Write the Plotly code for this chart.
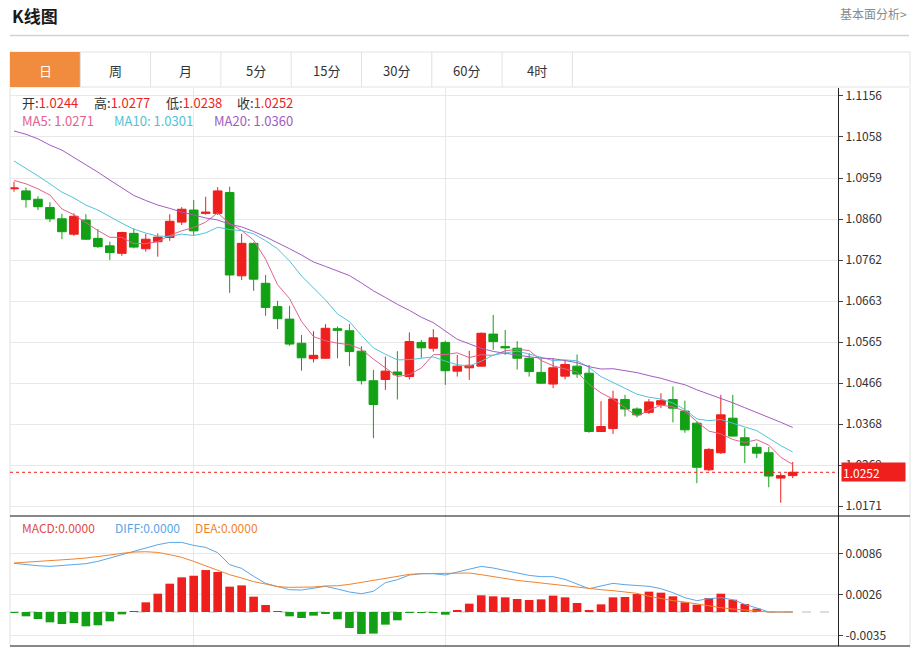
import plotly.graph_objects as go
import pandas as pd

# ---------------- data ----------------
opens = [1.0933, 1.0928, 1.0908, 1.0888, 1.0861, 1.0824, 1.0858, 1.0814, 1.0796, 1.0778,
         1.0826, 1.0789, 1.0806, 1.0816, 1.0853, 1.0882, 1.0874, 1.0874, 1.0924, 1.0724,
         1.0802, 1.0706, 1.0650, 1.0620, 1.0562, 1.0525, 1.0526, 1.0597, 1.0592, 1.0543,
         1.0472, 1.0475, 1.0493, 1.0482, 1.0564, 1.0550, 1.0564, 1.0495, 1.0503, 1.0507,
         1.0584, 1.0554, 1.0550, 1.0526, 1.0492, 1.0464, 1.0483, 1.0507, 1.0490, 1.0350,
         1.0357, 1.0427, 1.0404, 1.0396, 1.0414, 1.0427, 1.0399, 1.0370, 1.0258, 1.0299,
         1.0382, 1.0335, 1.0312, 1.0299, 1.0238, 1.0244]
highs = [1.0950, 1.0936, 1.0915, 1.0901, 1.0873, 1.0874, 1.0872, 1.0836, 1.0806, 1.0830,
         1.0838, 1.0825, 1.0826, 1.0872, 1.0889, 1.0906, 1.0914, 1.0937, 1.0938, 1.0825,
         1.0804, 1.0726, 1.0664, 1.0652, 1.0582, 1.0591, 1.0608, 1.0602, 1.0608, 1.0555,
         1.0498, 1.0530, 1.0543, 1.0588, 1.0570, 1.0596, 1.0568, 1.0534, 1.0544, 1.0588,
         1.0630, 1.0594, 1.0567, 1.0538, 1.0528, 1.0526, 1.0522, 1.0535, 1.0510, 1.0423,
         1.0448, 1.0438, 1.0408, 1.0428, 1.0442, 1.0458, 1.0424, 1.0374, 1.0310, 1.0438,
         1.0438, 1.0358, 1.0322, 1.0313, 1.0250, 1.0277]
lows = [1.0926, 1.0888, 1.0882, 1.0853, 1.0812, 1.0820, 1.0810, 1.0791, 1.0762, 1.0772,
        1.0790, 1.0782, 1.0770, 1.0808, 1.0846, 1.0822, 1.0871, 1.0870, 1.0683, 1.0714,
        1.0688, 1.0628, 1.0596, 1.0556, 1.0496, 1.0516, 1.0525, 1.0526, 1.0507, 1.0463,
        1.0334, 1.0450, 1.0427, 1.0475, 1.0527, 1.0542, 1.0462, 1.0482, 1.0474, 1.0506,
        1.0546, 1.0534, 1.0499, 1.0482, 1.0465, 1.0454, 1.0475, 1.0479, 1.0347, 1.0349,
        1.0344, 1.0386, 1.0384, 1.0392, 1.0406, 1.0372, 1.0347, 1.0226, 1.0255, 1.0296,
        1.0338, 1.0274, 1.0286, 1.0216, 1.0179, 1.0238]
closes = [1.0935, 1.0907, 1.0890, 1.0861, 1.0830, 1.0867, 1.0812, 1.0794, 1.0780, 1.0828,
          1.0793, 1.0812, 1.0817, 1.0855, 1.0884, 1.0832, 1.0877, 1.0928, 1.0726, 1.0802,
          1.0716, 1.0648, 1.0621, 1.0560, 1.0527, 1.0533, 1.0598, 1.0593, 1.0542, 1.0472,
          1.0415, 1.0495, 1.0486, 1.0566, 1.0551, 1.0575, 1.0496, 1.0507, 1.0509, 1.0586,
          1.0566, 1.0551, 1.0526, 1.0494, 1.0466, 1.0503, 1.0511, 1.0488, 1.0350, 1.0362,
          1.0428, 1.0404, 1.0390, 1.0421, 1.0424, 1.0406, 1.0354, 1.0264, 1.0307, 1.0390,
          1.0339, 1.0317, 1.0298, 1.0243, 1.0244, 1.0252]

# moving-average values before enough visible history exists
ma5_head = [1.0953, 1.0945, 1.0933, 1.0918]
ma10_head = [1.1000, 1.0983, 1.0964, 1.0945, 1.0925, 1.0911, 1.0894, 1.0882, 1.0866]
ma20_head = [1.1072, 1.1064, 1.1053, 1.1038, 1.1026, 1.1009, 1.0990, 1.0973, 1.0954, 1.0935,
             1.0917, 1.0905, 1.0894, 1.0886, 1.0877, 1.0870, 1.0863, 1.0858, 1.0848]

diff = [0.00720, 0.00700, 0.00685, 0.00675, 0.00685, 0.00695, 0.00715, 0.00749, 0.00799, 0.00848,
        0.00897, 0.00956, 0.00996, 0.01030, 0.01030, 0.00986, 0.00956, 0.00878, 0.00700, 0.00646,
        0.00528, 0.00424, 0.00375, 0.00330, 0.00325, 0.00355, 0.00380, 0.00340, 0.00296, 0.00271,
        0.00306, 0.00434, 0.00478, 0.00547, 0.00567, 0.00567, 0.00547, 0.00592, 0.00636, 0.00675,
        0.00651, 0.00616, 0.00582, 0.00542, 0.00523, 0.00523, 0.00483, 0.00414, 0.00345, 0.00385,
        0.00424, 0.00404, 0.00389, 0.00380, 0.00345, 0.00286, 0.00212, 0.00168, 0.00197, 0.00212,
        0.00182, 0.00113, 0.00059, 0.0, 0.0, 0.0]
dea = [0.00725, 0.00735, 0.00744, 0.00754, 0.00769, 0.00784, 0.00799, 0.00818, 0.00843, 0.00868,
       0.00887, 0.00892, 0.00882, 0.00848, 0.00809, 0.00749, 0.00685, 0.00611, 0.00552, 0.00503,
       0.00449, 0.00414, 0.00375, 0.00365, 0.00365, 0.00370, 0.00385, 0.00389, 0.00409, 0.00439,
       0.00473, 0.00503, 0.00532, 0.00557, 0.00567, 0.00572, 0.00577, 0.00577, 0.00577, 0.00552,
       0.00523, 0.00493, 0.00468, 0.00449, 0.00429, 0.00404, 0.00385, 0.00360, 0.00345, 0.00330,
       0.00316, 0.00301, 0.00276, 0.00232, 0.00197, 0.00168, 0.00148, 0.00118, 0.00089, 0.00064,
       0.00044, 0.00030, 0.00015, 0.0, 0.0, 0.0]
macd_hist = [-0.00005, -0.00064, -0.00104, -0.00153, -0.00178, -0.00163, -0.00212, -0.00197, -0.00138, -0.00035,
             0.00010, 0.00143, 0.00271, 0.00419, 0.00513, 0.00537, 0.00621, 0.00592, 0.00375, 0.00394,
             0.00227, 0.00104, 0.00012, -0.00064, -0.00089, -0.00054, -0.00025, -0.00108, -0.00237, -0.00325,
             -0.00320, -0.00187, -0.00123, -0.00012, -0.00010, -0.00005, -0.00040, 0.00030, 0.00123, 0.00247,
             0.00232, 0.00217, 0.00192, 0.00178, 0.00187, 0.00242, 0.00217, 0.00133, 0.00020, 0.00113,
             0.00217, 0.00222, 0.00266, 0.00301, 0.00286, 0.00232, 0.00143, 0.00108, 0.00207, 0.00271,
             0.00182, 0.00118, 0.00049, 0.0, 0.0, 0.0]

price_tick_labels = ["1.1156", "1.1058", "1.0959", "1.0860", "1.0762", "1.0663",
                     "1.0565", "1.0466", "1.0368", "1.0269", "1.0171"]
macd_tick_labels = ["0.0086", "0.0026", "-0.0035"]
period_tabs = ["日", "周", "月", "5分", "15分", "30分", "60分", "4时"]
month_start_idx = [15, 36]

# ---------------- styling ----------------
RED = "#EE1F1C"
GREEN = "#12A014"
C_MA5 = "#E2628E"
C_MA10 = "#52C2D8"
C_MA20 = "#A25CC0"
C_DIFF = "#5AA6E6"
C_DEA = "#F0832E"
ORANGE = "#F18B3D"
FONT = "Noto Sans CJK SC"
GRID = "#E8E8E8"

W, H = 918, 649
PL, PR, PT, PB = 10, 838, 88, 646
SPLIT = 516


def px(x):
    return (x - PL) / (PR - PL)


def py(y):
    return (PB - y) / (PB - PT)


idx = list(range(len(closes)))
s = pd.Series(closes)
ma5 = s.rolling(5).mean().tolist()
ma10 = s.rolling(10).mean().tolist()
ma20 = s.rolling(20).mean().tolist()
ma5[:len(ma5_head)] = ma5_head
ma10[:len(ma10_head)] = ma10_head
ma20[:len(ma20_head)] = ma20_head

fig = go.Figure()

fig.add_trace(go.Candlestick(
    x=idx, open=opens, high=highs, low=lows, close=closes,
    increasing=dict(line=dict(color=RED, width=1), fillcolor=RED),
    decreasing=dict(line=dict(color=GREEN, width=1), fillcolor=GREEN),
    whiskerwidth=0, showlegend=False, hoverinfo="skip", xaxis="x", yaxis="y"))

for vals, col in [(ma5, C_MA5), (ma10, C_MA10), (ma20, C_MA20)]:
    fig.add_trace(go.Scatter(x=idx, y=vals, mode="lines", line=dict(color=col, width=1),
                             showlegend=False, hoverinfo="skip", xaxis="x", yaxis="y"))

bar_colors = [RED if v >= 0 else GREEN for v in macd_hist]
fig.add_trace(go.Bar(x=idx, y=macd_hist, marker=dict(color=bar_colors, line=dict(width=0)),
                     width=0.72, showlegend=False, hoverinfo="skip", xaxis="x2", yaxis="y2"))
fig.add_trace(go.Scatter(x=idx, y=diff, mode="lines", line=dict(color=C_DIFF, width=1),
                         showlegend=False, hoverinfo="skip", xaxis="x2", yaxis="y2"))
fig.add_trace(go.Scatter(x=idx, y=dea, mode="lines", line=dict(color=C_DEA, width=1),
                         showlegend=False, hoverinfo="skip", xaxis="x2", yaxis="y2"))

split_frac = py(SPLIT)
xrange_ = [-0.334, 68.78]
price_range = [1.01470, 1.11752]
macd_range = [-0.005032, 0.014208]

xcommon = dict(range=xrange_, tickvals=month_start_idx, showgrid=True, gridcolor=GRID,
               gridwidth=1, showticklabels=False, ticks="", zeroline=False, showline=False,
               fixedrange=True)
ycommon = dict(side="right", showgrid=True, gridcolor=GRID, gridwidth=1, showline=True,
               linecolor="#222222", linewidth=1, ticks="outside", ticklen=4,
               tickcolor="#444444", tickfont=dict(family=FONT, size=12, color="#333333"),
               zeroline=False, fixedrange=True)

fig.update_layout(
    width=W, height=H,
    margin=dict(l=PL, r=W - PR, t=PT, b=H - PB, pad=0),
    paper_bgcolor="white", plot_bgcolor="white",
    boxgap=0.1, boxgroupgap=0.2, bargap=0.28,
    xaxis=dict(domain=[0, 1], anchor="y", rangeslider=dict(visible=False), **xcommon),
    xaxis2=dict(domain=[0, 1], anchor="y2", matches="x", **xcommon),
    yaxis=dict(domain=[split_frac, 1], anchor="x", range=price_range,
               tickvals=[float(t) for t in price_tick_labels], ticktext=price_tick_labels,
               **ycommon),
    yaxis2=dict(domain=[0, split_frac], anchor="x2", range=macd_range,
                tickvals=[float(t) for t in macd_tick_labels], ticktext=macd_tick_labels,
                **ycommon),
    font=dict(family=FONT, size=12, color="#333333"),
    showlegend=False,
)

shapes = []
ann = []

# header
ann.append(dict(x=px(10), y=py(16), xref="paper", yref="paper", xanchor="left", yanchor="middle",
                text="<b>K线图</b>", showarrow=False, font=dict(family=FONT, size=17, color="#1A1A1A")))
ann.append(dict(x=px(909), y=py(14), xref="paper", yref="paper", xanchor="right", yanchor="middle",
                text="基本面分析>", showarrow=False, font=dict(family=FONT, size=12, color="#8A8A8A")))
shapes.append(dict(type="line", xref="paper", yref="paper", x0=px(10), x1=px(909), y0=py(35.5), y1=py(35.5),
                   line=dict(color="#D2D2D2", width=1.5)))

# tab bar
TAB_W = 70.3
shapes.append(dict(type="rect", xref="paper", yref="paper", x0=px(10), x1=px(910), y0=py(87), y1=py(52),
                   line=dict(color="#E2E2E2", width=1), fillcolor="white", layer="below"))
shapes.append(dict(type="rect", xref="paper", yref="paper", x0=px(10), x1=px(10 + TAB_W), y0=py(87), y1=py(52),
                   line=dict(width=0), fillcolor=ORANGE))
for k, lab in enumerate(period_tabs):
    left = 10 + TAB_W * k
    if k > 0:
        shapes.append(dict(type="line", xref="paper", yref="paper", x0=px(left), x1=px(left),
                           y0=py(87), y1=py(52), line=dict(color="#E2E2E2", width=1)))
    ann.append(dict(x=px(left + TAB_W / 2), y=py(70), xref="paper", yref="paper",
                    xanchor="center", yanchor="middle", text=lab, showarrow=False,
                    font=dict(family=FONT, size=13, color="white" if k == 0 else "#333333")))
shapes.append(dict(type="line", xref="paper", yref="paper", x0=px(10 + TAB_W * len(period_tabs)),
                   x1=px(10 + TAB_W * len(period_tabs)), y0=py(87), y1=py(52),
                   line=dict(color="#E2E2E2", width=1)))

# chart frame
shapes.append(dict(type="line", xref="paper", yref="paper", x0=px(10), x1=px(10), y0=0, y1=1,
                   line=dict(color="#E2E2E2", width=1)))
shapes.append(dict(type="line", xref="paper", yref="paper", x0=px(910), x1=px(910), y0=0, y1=1,
                   line=dict(color="#E2E2E2", width=1)))
for yy in (SPLIT, PB):
    shapes.append(dict(type="line", xref="paper", yref="paper", x0=px(10), x1=px(910),
                       y0=py(yy), y1=py(yy), line=dict(color="#111111", width=1)))

# last price dotted line + label
shapes.append(dict(type="line", xref="paper", yref="y", x0=0, x1=1, y0=closes[-1], y1=closes[-1],
                   line=dict(color=RED, width=1, dash="dot")))
ann.append(dict(x=px(841), y=closes[-1], xref="paper", yref="y", xanchor="left", yanchor="middle",
                text=f"{closes[-1]:.4f}", showarrow=False, bgcolor=RED, width=61, height=16,
                align="left", borderpad=1, font=dict(family=FONT, size=12, color="white")))

# MACD zero line
shapes.append(dict(type="line", xref="paper", yref="y2", x0=0, x1=1, y0=0, y1=0, layer="below",
                   line=dict(color="#BBBBBB", width=1, dash="dash")))

# info texts
def lab_val(lab, val):
    return f'<span style="color:#333333">{lab}</span><span style="color:{RED}">{val:.4f}</span>'

for xp, lab, val in [(20, "开:", opens[-1]), (92, "高:", highs[-1]), (164, "低:", lows[-1]), (235, "收:", closes[-1])]:
    ann.append(dict(x=px(xp), y=py(103), xref="paper", yref="paper", xanchor="left", yanchor="middle",
                    text=lab_val(lab, val), showarrow=False, font=dict(family=FONT, size=13)))
for xp, lab, vals, col in [(20, "MA5", ma5, C_MA5), (112, "MA10", ma10, C_MA10), (212, "MA20", ma20, C_MA20)]:
    ann.append(dict(x=px(xp), y=py(121), xref="paper", yref="paper", xanchor="left", yanchor="middle",
                    text=f"{lab}: {vals[-1]:.4f}", showarrow=False, font=dict(family=FONT, size=13, color=col)))
for xp, lab, val, col in [(20, "MACD", macd_hist[-1], "#E04A4A"), (113, "DIFF", diff[-1], C_DIFF),
                          (193, "DEA", dea[-1], C_DEA)]:
    ann.append(dict(x=px(xp), y=py(527), xref="paper", yref="paper", xanchor="left", yanchor="middle",
                    text=f"{lab}:{val:.4f}", showarrow=False, font=dict(family=FONT, size=12, color=col)))

fig.update_layout(shapes=shapes, annotations=ann)

fig.write_html("out.html", config={"displayModeBar": False},
               post_script="document.body.style.margin='0';")
